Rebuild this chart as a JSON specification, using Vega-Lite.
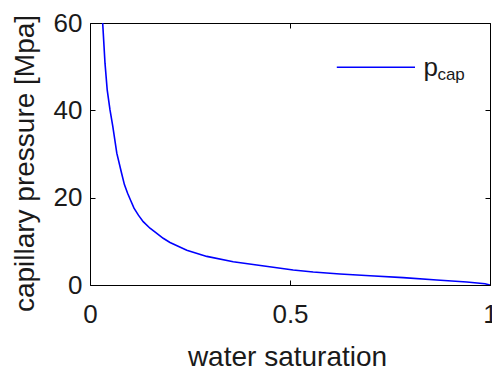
{
  "$schema": "https://vega.github.io/schema/vega-lite/v6.json",
  "autosize": "none",
  "width": 400,
  "height": 262,
  "padding": {"left": 90, "top": 23, "right": 2, "bottom": 92},
  "background": "white",
  "config": {
    "view": {"stroke": "black", "strokeWidth": 1},
    "axis": {
      "grid": false,
      "domain": false,
      "offset": -5,
      "tickColor": "black",
      "tickSize": 5,
      "labelFont": "Liberation Sans",
      "labelFontSize": 26,
      "labelColor": "#1a1a1a",
      "labelFlush": false,
      "labelOverlap": false,
      "titleFont": "Liberation Sans",
      "titleFontSize": 28,
      "titleFontWeight": "normal",
      "titleColor": "#1a1a1a"
    }
  },
  "datasets": {
    "curve": [
      {"s": 0.0317, "p": 60},
      {"s": 0.0375, "p": 50.8},
      {"s": 0.043, "p": 44.7},
      {"s": 0.05, "p": 40.1},
      {"s": 0.057, "p": 36.3},
      {"s": 0.067, "p": 30.2},
      {"s": 0.079, "p": 25.6},
      {"s": 0.086, "p": 23.0},
      {"s": 0.094, "p": 21.0},
      {"s": 0.102, "p": 19.3},
      {"s": 0.11, "p": 17.6},
      {"s": 0.121, "p": 16.0},
      {"s": 0.133, "p": 14.5},
      {"s": 0.15, "p": 13.0},
      {"s": 0.167, "p": 11.8},
      {"s": 0.183, "p": 10.7},
      {"s": 0.2, "p": 9.75},
      {"s": 0.242, "p": 7.96},
      {"s": 0.292, "p": 6.55},
      {"s": 0.358, "p": 5.34},
      {"s": 0.417, "p": 4.58},
      {"s": 0.458, "p": 4.05},
      {"s": 0.508, "p": 3.44},
      {"s": 0.558, "p": 2.98},
      {"s": 0.625, "p": 2.52},
      {"s": 0.7, "p": 2.13},
      {"s": 0.783, "p": 1.68},
      {"s": 0.867, "p": 1.15},
      {"s": 0.942, "p": 0.69},
      {"s": 0.9875, "p": 0.3},
      {"s": 1.0, "p": 0}
    ],
    "legendLine": [{"s": 0.617, "s2": 0.8125, "p": 49.85}],
    "legendMain": [{"s": 0.834, "p": 47.75, "label": "p"}],
    "legendSub": [{"s": 0.8685, "p": 47.06, "label": "cap"}]
  },
  "layer": [
    {
      "data": {"name": "curve"},
      "mark": {"type": "line", "color": "#0000ff", "strokeWidth": 1.6, "clip": true},
      "encoding": {
        "x": {
          "field": "s", "type": "quantitative",
          "scale": {"domain": [0, 1], "nice": false, "zero": false},
          "axis": {
            "orient": "bottom", "values": [0, 0.5, 1], "format": "~g",
            "labelPadding": 16,
            "title": "water saturation",
            "titleX": 197, "titleY": 85, "titleBaseline": "alphabetic"
          }
        },
        "y": {
          "field": "p", "type": "quantitative",
          "scale": {"domain": [0, 60], "nice": false},
          "axis": {
            "orient": "left", "values": [0, 20, 40, 60],
            "labelPadding": 8,
            "title": "capillary pressure [Mpa]",
            "titleX": -62, "titleY": 140, "titleBaseline": "alphabetic", "titleAngle": -90
          }
        }
      }
    },
    {
      "data": {"name": "legendLine"},
      "mark": {"type": "rule", "color": "#0000ff", "strokeWidth": 1.5},
      "encoding": {
        "x": {"field": "s", "type": "quantitative",
              "axis": {"orient": "top", "values": [0, 0.5, 1], "labels": false, "title": null}},
        "x2": {"field": "s2"},
        "y": {"field": "p", "type": "quantitative",
              "axis": {"orient": "right", "values": [0, 20, 40, 60], "labels": false, "title": null}}
      }
    },
    {
      "data": {"name": "legendMain"},
      "mark": {"type": "text", "font": "Liberation Sans", "fontSize": 26, "align": "left", "baseline": "alphabetic", "color": "#1a1a1a"},
      "encoding": {
        "x": {"field": "s", "type": "quantitative", "axis": null},
        "y": {"field": "p", "type": "quantitative", "axis": null},
        "text": {"field": "label"}
      }
    },
    {
      "data": {"name": "legendSub"},
      "mark": {"type": "text", "font": "Liberation Sans", "fontSize": 17, "align": "left", "baseline": "alphabetic", "color": "#1a1a1a"},
      "encoding": {
        "x": {"field": "s", "type": "quantitative", "axis": null},
        "y": {"field": "p", "type": "quantitative", "axis": null},
        "text": {"field": "label"}
      }
    }
  ],
  "resolve": {"axis": {"x": "independent", "y": "independent"}}
}
